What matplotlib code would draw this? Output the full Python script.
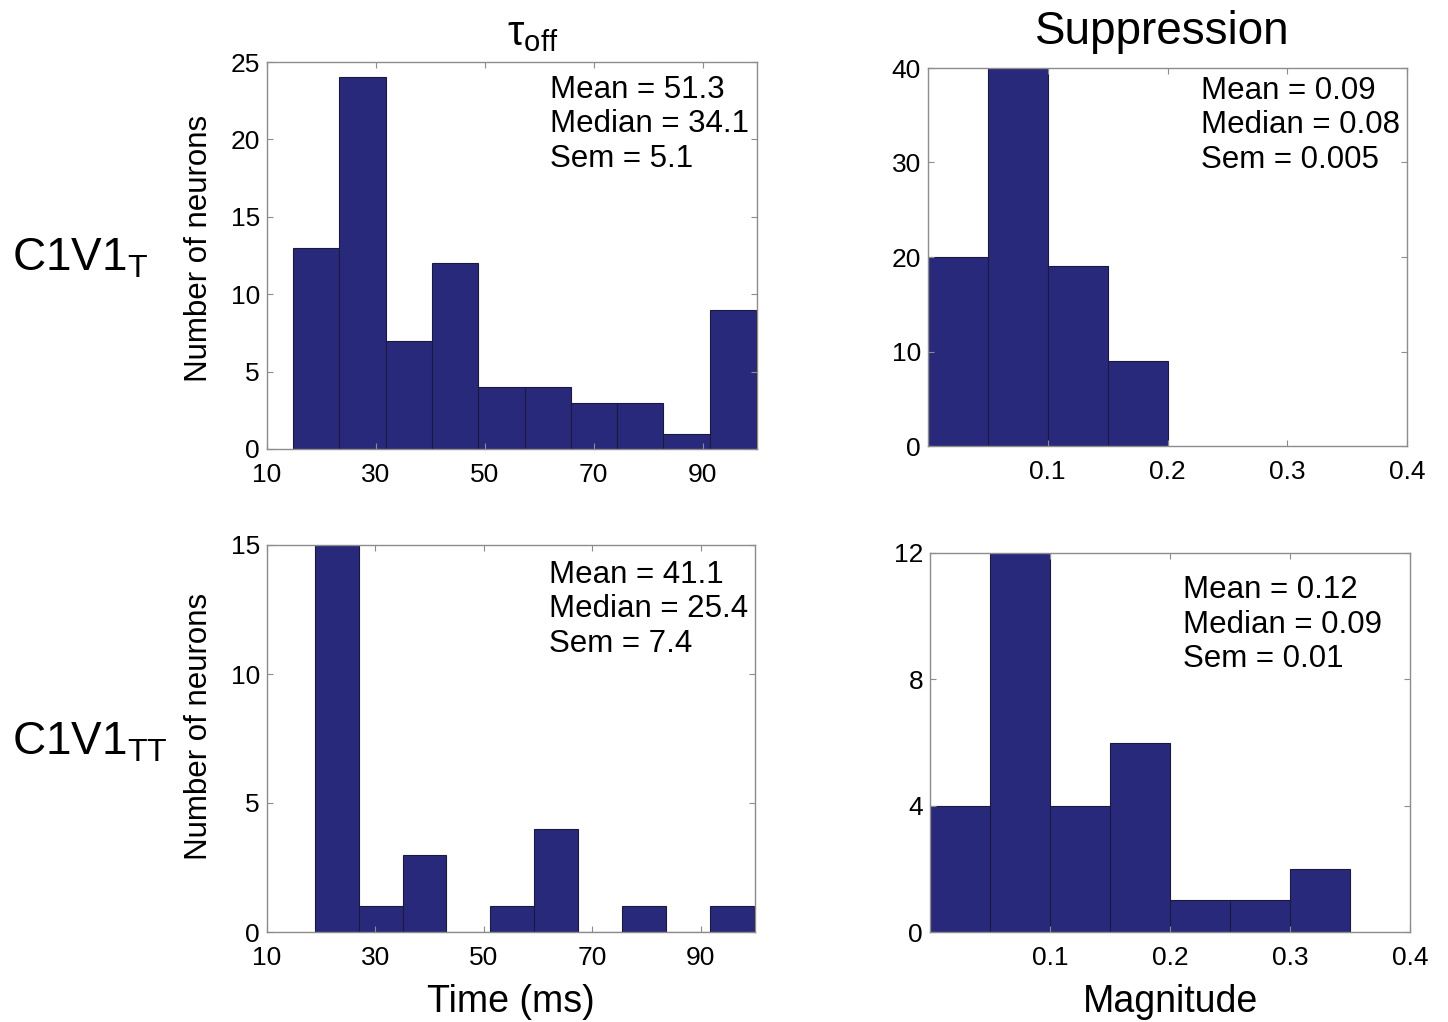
import matplotlib
matplotlib.use("Agg")
import matplotlib.pyplot as plt
import numpy as np

plt.rcParams['font.family'] = ['Liberation Sans', 'DejaVu Sans']
plt.rcParams['mathtext.fontset'] = 'custom'
plt.rcParams['mathtext.rm'] = 'Liberation Sans'

# tau_off histograms (bin left edges, bin width, counts)
toff_t_edges = [14.8, 23.3, 31.8, 40.3, 48.8, 57.3, 65.8, 74.3, 82.8, 91.3]
toff_t_width = 8.5
toff_t_counts = [13, 24, 7, 12, 4, 4, 3, 3, 1, 9]

toff_tt_edges = [18.8, 26.9, 35.0, 43.1, 51.2, 59.3, 67.4, 75.5, 83.6, 91.7]
toff_tt_width = 8.1
toff_tt_counts = [15, 1, 3, 0, 1, 4, 0, 1, 0, 1]

# suppression histograms
sup_t_edges = [0.0, 0.05, 0.10, 0.15]
sup_t_counts = [20, 40, 19, 9]
sup_tt_edges = [0.0, 0.05, 0.10, 0.15, 0.20, 0.25, 0.30]
sup_tt_counts = [4, 12, 4, 6, 1, 1, 2]
sup_width = 0.05

stats = [
    "Mean = 51.3\nMedian = 34.1\nSem = 5.1",
    "Mean = 0.09\nMedian = 0.08\nSem = 0.005",
    "Mean = 41.1\nMedian = 25.4\nSem = 7.4",
    "Mean = 0.12\nMedian = 0.09\nSem = 0.01",
]

bar_color = '#29297b'
W, H = 1448, 1022
fig = plt.figure(figsize=(W / 100, H / 100), dpi=100)


def px_axes(x0, y0, x1, y1):
    return fig.add_axes([x0 / W, 1 - y1 / H, (x1 - x0) / W, (y1 - y0) / H])


ax1 = px_axes(267, 62, 757, 449)
ax2 = px_axes(928, 68, 1407, 446)
ax3 = px_axes(267, 545, 755, 932)
ax4 = px_axes(930, 553, 1410, 932)

ax1.bar(toff_t_edges, toff_t_counts, width=toff_t_width, align='edge',
        color=bar_color, edgecolor='#1a1a40', linewidth=0.8)
ax3.bar(toff_tt_edges, toff_tt_counts, width=toff_tt_width, align='edge',
        color=bar_color, edgecolor='#1a1a40', linewidth=0.8)
ax2.bar(sup_t_edges, sup_t_counts, width=sup_width, align='edge',
        color=bar_color, edgecolor='#1a1a40', linewidth=0.8)
ax4.bar(sup_tt_edges, sup_tt_counts, width=sup_width, align='edge',
        color=bar_color, edgecolor='#1a1a40', linewidth=0.8)

for ax in (ax1, ax3):
    ax.set_xlim(10, 100)
    ax.set_xticks([10, 30, 50, 70, 90])
for ax in (ax2, ax4):
    ax.set_xlim(0, 0.4)
    ax.set_xticks([0.1, 0.2, 0.3, 0.4])
    ax.set_xticklabels(['0.1', '0.2', '0.3', '0.4'])

ax1.set_ylim(0, 25)
ax1.set_yticks([0, 5, 10, 15, 20, 25])
ax3.set_ylim(0, 15)
ax3.set_yticks([0, 5, 10, 15])
ax2.set_ylim(0, 40)
ax2.set_yticks([0, 10, 20, 30, 40])
ax4.set_ylim(0, 12)
ax4.set_yticks([0, 4, 8, 12])

text_pos = [(0.578, 0.967), (0.569, 0.98), (0.578, 0.962), (0.527, 0.942)]
for ax, s, (tx, ty) in zip((ax1, ax2, ax3, ax4), stats, text_pos):
    for sp in ax.spines.values():
        sp.set_color('#8c8c8c')
        sp.set_linewidth(1.0)
    ax.tick_params(direction='in', length=4, width=0.8, color='#8c8c8c',
                   top=True, right=True, labelsize=19)
    ax.tick_params(axis='x', pad=10)
    ax.tick_params(axis='y', pad=5)
    ax.text(tx, ty, s, transform=ax.transAxes, ha='left', va='top',
            fontsize=22.5, linespacing=1.2)

ax1.set_ylabel("Number of neurons", fontsize=22.5)
ax3.set_ylabel("Number of neurons", fontsize=22.5)
ax1.yaxis.set_label_coords(-0.108, 0.519)
ax3.yaxis.set_label_coords(-0.109, 0.532)
ax3.set_xlabel("Time (ms)", fontsize=27, labelpad=10)
ax4.set_xlabel("Magnitude", fontsize=27, labelpad=10)
ax1.set_title(r"τ$_\mathregular{off}$", fontsize=30, pad=12, x=0.543)
ax2.set_title("Suppression", fontsize=33, pad=17, x=0.49)

fig.text(12 / W, 1 - 258 / H, r"C1V1$_\mathregular{T}$", fontsize=33,
         ha='left', va='center')
fig.text(12 / W, 1 - 742 / H, r"C1V1$_\mathregular{TT}$", fontsize=33,
         ha='left', va='center')

fig.savefig("out.png", dpi=100)
